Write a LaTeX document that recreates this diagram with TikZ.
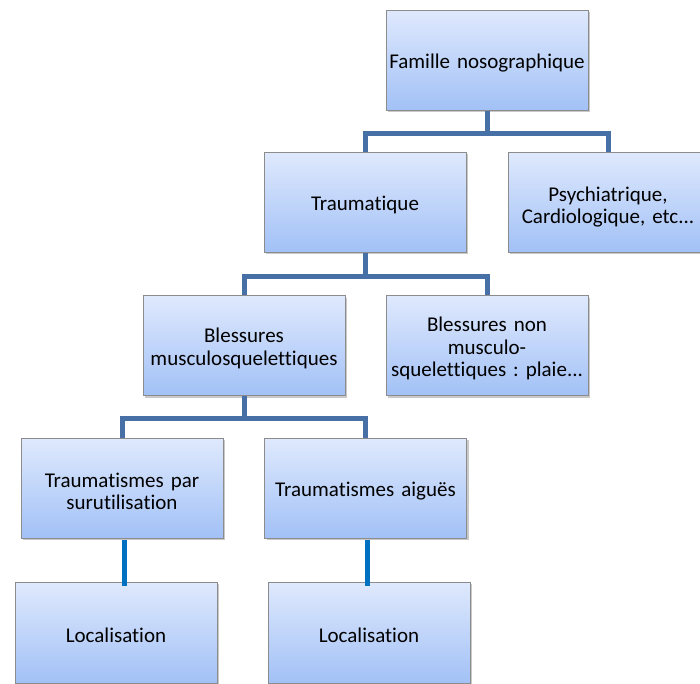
\documentclass[tikz,border=0pt]{standalone}
\usepackage{fontspec}
\setmainfont[Ligatures=NoCommon]{Carlito}
\usetikzlibrary{shadows}
\frenchspacing
\definecolor{boxtop}{RGB}{223,233,253}
\definecolor{boxbot}{RGB}{162,193,246}
\definecolor{boxline}{RGB}{140,140,140}
\definecolor{connA}{RGB}{70,112,166}
\definecolor{connB}{RGB}{0,112,192}
\tikzset{
  nbox/.style={rectangle, draw=boxline, line width=1pt, top color=boxtop, bottom color=boxbot,
    minimum width=202pt, minimum height=100pt, inner sep=0pt,
    drop shadow={shadow xshift=2pt, shadow yshift=-2pt, opacity=0.35, fill=black!60}},
  ntext/.style={text width=198pt, align=center, inner sep=0pt,
    font=\fontsize{21}{22.3}\selectfont},
  conn/.style={draw=connA, line width=5pt},
  connb/.style={draw=connB, line width=5pt},
}
\begin{document}
\begin{tikzpicture}[x=1pt,y=-1pt]
\useasboundingbox (0,0) rectangle (700,683);
\clip (0,0) rectangle (700,683);
\fill[white] (0,0) rectangle (700,683);
\coordinate (j1) at (487,133);
\coordinate (j2) at (365,276);
\coordinate (j3) at (244,418);
\node[nbox] (top) at (487,60) {};
\node[nbox] (trau) at (365,202) {};
\node[nbox, minimum width=200pt] (psy) at (608,202) {};
\node[nbox] (bm) at (244,345.5) {};
\node[nbox] (bnm) at (487,345.5) {};
\node[nbox] (tps) at (122,488) {};
\node[nbox] (tai) at (365.5,488) {};
\node[nbox, minimum height=101pt] (loc1) at (116,632.5) {};
\node[nbox, minimum height=101pt] (loc2) at (369,632.5) {};
\node[ntext] (top-t) at ([yshift=-3pt]top.center) {Famille nosographique};
\node[ntext] (trau-t) at ([yshift=-3pt]trau.center) {Traumatique};
\node[ntext] (psy-t) at ([yshift=-5pt]psy.center) {Psychiatrique,\\Cardiologique, etc...};
\node[ntext] (bm-t) at ([yshift=-3pt]bm.center) {Blessures\\musculosquelettiques};
\node[ntext] (bnm-t) at ([yshift=-3pt]bnm.center) {Blessures non\\musculo-\\squelettiques : plaie...};
\node[ntext] (tps-t) at ([yshift=-3pt]tps.center) {Traumatismes par\\surutilisation};
\node[ntext] (tai-t) at ([yshift=-3pt]tai.center) {Traumatismes aiguës};
\node[ntext] (loc1-t) at ([yshift=-3pt]loc1.center) {Localisation};
\node[ntext] (loc2-t) at ([yshift=-3pt]loc2.center) {Localisation};
\draw[conn] (top.south) -- (j1) -| (trau.north);
\draw[conn] (j1) -| (psy.north);
\draw[conn] (trau.south) -- (j2) -| (bm.north);
\draw[conn] (j2) -| (bnm.north);
\draw[conn] (bm.south) -- (j3) -| (tps.north);
\draw[conn] (j3) -| (tai.north);
\draw[connb] ([xshift=2pt,yshift=-1pt]tps.south) -- ([xshift=2pt,yshift=-4pt]tps.south |- loc1.north);
\draw[connb] ([xshift=2pt,yshift=-1pt]tai.south) -- ([xshift=2pt,yshift=-4pt]tai.south |- loc2.north);
\end{tikzpicture}
\end{document}
